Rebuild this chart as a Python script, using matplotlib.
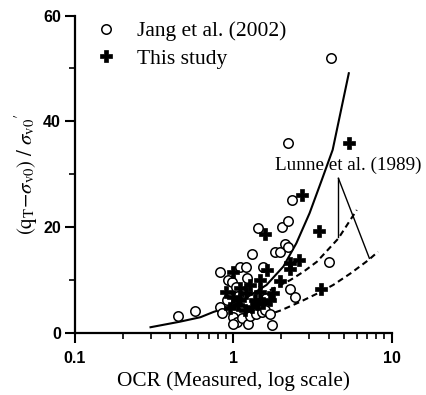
import numpy as np
import matplotlib
matplotlib.use("Agg")
import matplotlib.pyplot as plt
from matplotlib.ticker import FixedLocator, NullFormatter

plt.rcParams['font.family'] = ['Liberation Serif', 'DejaVu Serif']
plt.rcParams['mathtext.fontset'] = 'stix'

# Jang et al. (2002) data
jang_ocr = [4.14, 2.21, 2.34, 2.02, 2.23, 1.44, 4.02, 1.83, 1.96, 2.12,
            2.23, 1.31, 0.82, 1.10, 1.21, 1.55, 0.93, 1.22, 0.98, 2.28,
            2.45, 0.91, 0.82, 0.85, 1.00, 1.05, 1.00, 1.13, 1.24, 1.28,
            1.40, 1.51, 1.59, 1.71, 1.75, 0.45, 0.57, 1.04, 1.07, 1.61]
jang_q = [51.9, 35.8, 25.0, 20.0, 21.2, 19.7, 13.4, 15.3, 15.2, 16.7,
          16.2, 14.8, 11.5, 12.5, 12.5, 12.5, 9.9, 10.3, 9.6, 8.2,
          6.8, 6.25, 4.9, 3.7, 3.0, 2.0, 1.6, 2.7, 1.7, 3.2,
          3.6, 3.9, 4.3, 3.6, 1.4, 3.2, 4.1, 8.6, 6.9, 6.5]

# this study
study_ocr = [5.38, 2.70, 3.48, 1.59, 2.28, 2.60, 2.28, 1.97, 3.58, 1.63,
             1.47, 1.00, 1.00, 1.21, 1.47, 1.79, 0.95, 1.31, 1.55, 1.71,
             1.10, 1.19, 1.37, 1.10, 1.28, 1.07, 1.43, 0.90]
study_q = [35.9, 26.0, 19.2, 18.7, 13.1, 13.7, 12.0, 9.75, 8.2, 11.8,
           9.9, 11.5, 6.8, 7.4, 7.7, 7.4, 4.6, 4.9, 5.5, 6.2,
           6.2, 4.3, 6.2, 8.4, 9.0, 5.2, 5.4, 7.7]

# trend line through the data
fit_ocr = [0.30, 0.46, 0.62, 0.75, 1.0, 1.21, 1.62, 2.07, 2.5, 3.03, 3.62, 4.24, 5.36]
fit_q = [1.0, 2.05, 2.9, 3.9, 5.1, 6.6, 9.0, 12.5, 16.9, 22.6, 28.9, 34.6, 49.1]

# Lunne et al. (1989) range
lunne_up_ocr = [1.7, 2.28, 2.77, 3.37, 4.6, 6.02]
lunne_up_q = [8.0, 9.9, 11.5, 13.4, 17.8, 23.2]
lunne_lo_ocr = [1.6, 2.0, 2.64, 3.4, 4.27, 5.5, 7.12, 8.2]
lunne_lo_q = [3.2, 4.2, 5.8, 7.4, 9.0, 11.2, 13.7, 15.3]

fig = plt.figure(figsize=(4.27, 3.95), dpi=100)
ax = fig.add_axes([0.1756, 0.1582, 0.7417, 0.8021])

ax.plot(fit_ocr, fit_q, color='black', lw=1.5, zorder=3)
ax.plot(lunne_up_ocr, lunne_up_q, color='black', lw=1.5, ls=(0, (2.9, 1.9)), zorder=3)
ax.plot(lunne_lo_ocr, lunne_lo_q, color='black', lw=1.5, ls=(0, (2.9, 1.9)), zorder=3)

ax.plot(jang_ocr, jang_q, ls='none', marker='o', ms=6.8, mfc='white', mec='black',
        mew=1.1, label='Jang et al. (2002)', zorder=4)
ax.plot(study_ocr, study_q, ls='none', marker='P', ms=8.5, mfc='black', mec='black',
        mew=0.5, label='This study', zorder=5)

# label with leaders to the two dashed bounds
ax.text(1.83, 31.7, 'Lunne et al. (1989)', fontsize=13.8, va='center', ha='left')
ax.plot([4.61, 4.61], [29.2, 18.1], color='black', lw=1.0)
ax.plot([4.61, 7.23], [29.2, 14.05], color='black', lw=1.0)

ax.set_xscale('log')
ax.set_xlim(0.1, 10)
ax.set_ylim(0, 60)

ax.spines['top'].set_visible(False)
ax.spines['right'].set_visible(False)
ax.spines['left'].set_linewidth(1.6)
ax.spines['bottom'].set_linewidth(1.6)

ax.set_xticks([0.1, 1, 10])
ax.set_xticklabels(['0.1', '1', '10'])
ax.xaxis.set_minor_locator(FixedLocator([m * d for d in (0.1, 1) for m in range(2, 10)]))
ax.xaxis.set_minor_formatter(NullFormatter())
ax.set_yticks([0, 20, 40, 60])
ax.yaxis.set_minor_locator(FixedLocator([10, 30, 50]))

ax.tick_params(which='major', length=7, width=1.5, direction='out')
ax.tick_params(which='minor', length=4, width=1.2, direction='out')
for lab in ax.get_xticklabels() + ax.get_yticklabels():
    lab.set_fontfamily('Liberation Sans')
    lab.set_fontweight('bold')
    lab.set_fontsize(11.5)
ax.tick_params(axis='x', pad=6)
ax.tick_params(axis='y', pad=3)

ax.set_xlabel('OCR (Measured, log scale)', fontsize=15.3, labelpad=4)
ax.set_ylabel(r"$(\mathrm{q}_{\mathrm{T}}\mathrm{-}\sigma_{\mathrm{v0}})\ /\ \sigma_{\mathrm{v0}}\mathrm{'}$",
              fontsize=15, labelpad=2)

ax.legend(loc='upper left', bbox_to_anchor=(0.071, 0.983), frameon=False, fontsize=15.5,
          handlelength=0.8, handletextpad=1.04, labelspacing=0.35, borderpad=0,
          borderaxespad=0)

fig.savefig('out.png', dpi=100)
